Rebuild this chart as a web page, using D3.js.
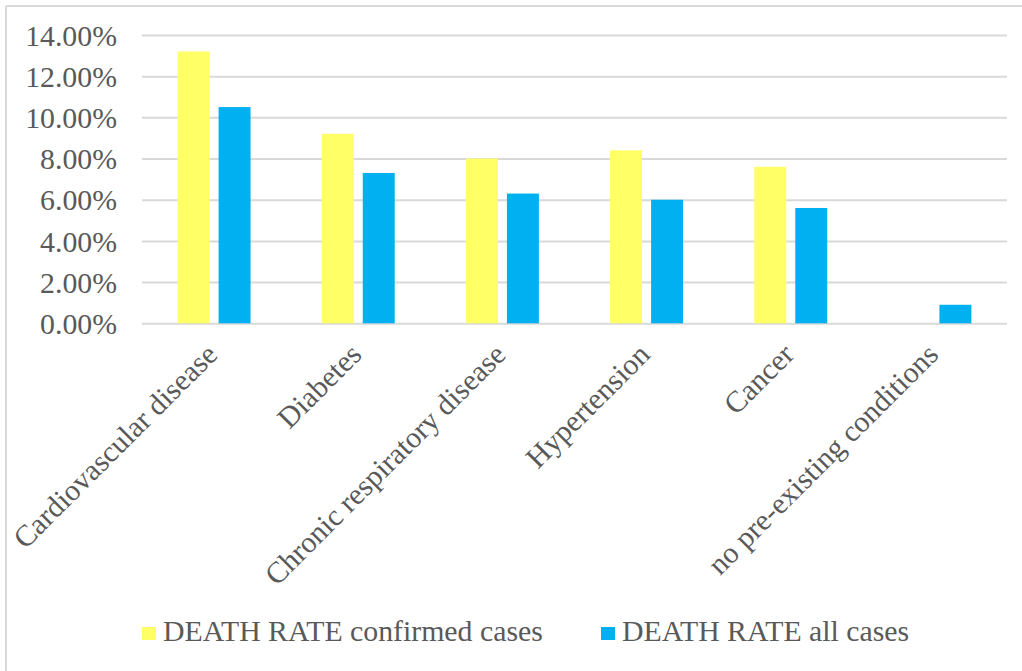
<!DOCTYPE html>
<html>
<head>
<meta charset="utf-8">
<script src="https://cdn.jsdelivr.net/npm/d3@7"></script>
<style>
  html, body { margin: 0; padding: 0; background: #fff; }
  svg { display: block; }
  text { font-family: "Liberation Serif", "Times New Roman", serif; fill: #595959; }
</style>
</head>
<body>
<svg id="chart" width="1022" height="671"></svg>
<script>
const categories = ["Cardiovascular disease", "Diabetes", "Chronic respiratory disease", "Hypertension", "Cancer", "no pre-existing conditions"];
const seriesNames = ["DEATH RATE confirmed cases", "DEATH RATE all cases"];
const confirmedCases = [0.132, 0.092, 0.080, 0.084, 0.076, null];
const allCases = [0.105, 0.073, 0.063, 0.060, 0.056, 0.009];
const yTicks = [0, 0.02, 0.04, 0.06, 0.08, 0.10, 0.12, 0.14];
const colors = ["#FFFF66", "#00B0F0"];

const svg = d3.select("#chart");
const W = 1022, H = 671;
const plotLeft = 142, plotRight = 1007, plotTop = 35, plotBottom = 323.3;
const fontSize = 29.8;

svg.append("rect").attr("width", W).attr("height", H).attr("fill", "#fff");
// chart border (only top and left visible in frame)
svg.append("line").attr("x1", 6).attr("x2", W).attr("y1", 6).attr("y2", 6)
  .attr("stroke", "#d9d9d9").attr("stroke-width", 2);
svg.append("line").attr("x1", 6).attr("x2", 6).attr("y1", 6).attr("y2", H)
  .attr("stroke", "#d9d9d9").attr("stroke-width", 2);

const x0 = d3.scaleBand().domain(categories).range([plotLeft, plotRight])
  .paddingInner(0.494).paddingOuter(0.247);
const x1 = d3.scaleBand().domain(seriesNames).range([0, x0.bandwidth()])
  .paddingInner(0.22);
const y = d3.scaleLinear().domain([0, 0.14]).range([plotBottom, plotTop]);

// gridlines
const yAxis = d3.axisLeft(y).tickValues(yTicks).tickFormat(d3.format(".2%"))
  .tickSize(-(plotRight - plotLeft)).tickPadding(25);
const gy = svg.append("g").attr("transform", `translate(${plotLeft},0)`).call(yAxis);
gy.select(".domain").remove();
gy.selectAll(".tick line").attr("stroke", "#d9d9d9").attr("stroke-width", 2);
gy.selectAll(".tick text").attr("font-size", fontSize).attr("fill", "#595959")
  .attr("font-family", "Liberation Serif").attr("dy", "0.34em");

const data = categories.map((c, i) => ({ cat: c, vals: [confirmedCases[i], allCases[i]] }));
const groups = svg.append("g").selectAll("g").data(data).join("g")
  .attr("transform", d => `translate(${x0(d.cat)},0)`);
groups.selectAll("rect")
  .data(d => d.vals.map((v, j) => ({ s: seriesNames[j], v, j })).filter(e => e.v != null))
  .join("rect")
  .attr("x", e => x1(e.s))
  .attr("width", x1.bandwidth())
  .attr("y", e => y(e.v))
  .attr("height", e => y(0) - y(e.v))
  .attr("fill", e => colors[e.j]);

// x axis (category labels rotated)
const xAxis = d3.axisBottom(x0).tickSize(0).tickPadding(0);
const gx = svg.append("g").attr("transform", `translate(0,${plotBottom})`).call(xAxis);
gx.select(".domain").remove();
gx.selectAll(".tick text")
  .attr("font-size", fontSize).attr("fill", "#595959").attr("font-family", "Liberation Serif")
  .attr("text-anchor", "end")
  .attr("dy", null).attr("y", null)
  .attr("transform", "translate(5,33) rotate(-45)");

// legend
const legendItems = [
  { name: seriesNames[0], color: colors[0], x: 142 },
  { name: seriesNames[1], color: colors[1], x: 601 }
];
const lg = svg.append("g").selectAll("g").data(legendItems).join("g")
  .attr("transform", d => `translate(${d.x},627)`);
lg.append("rect").attr("width", 14).attr("height", 13).attr("fill", d => d.color);
lg.append("text").attr("x", 21).attr("y", 14).attr("font-size", fontSize).text(d => d.name);
</script>
</body>
</html>
